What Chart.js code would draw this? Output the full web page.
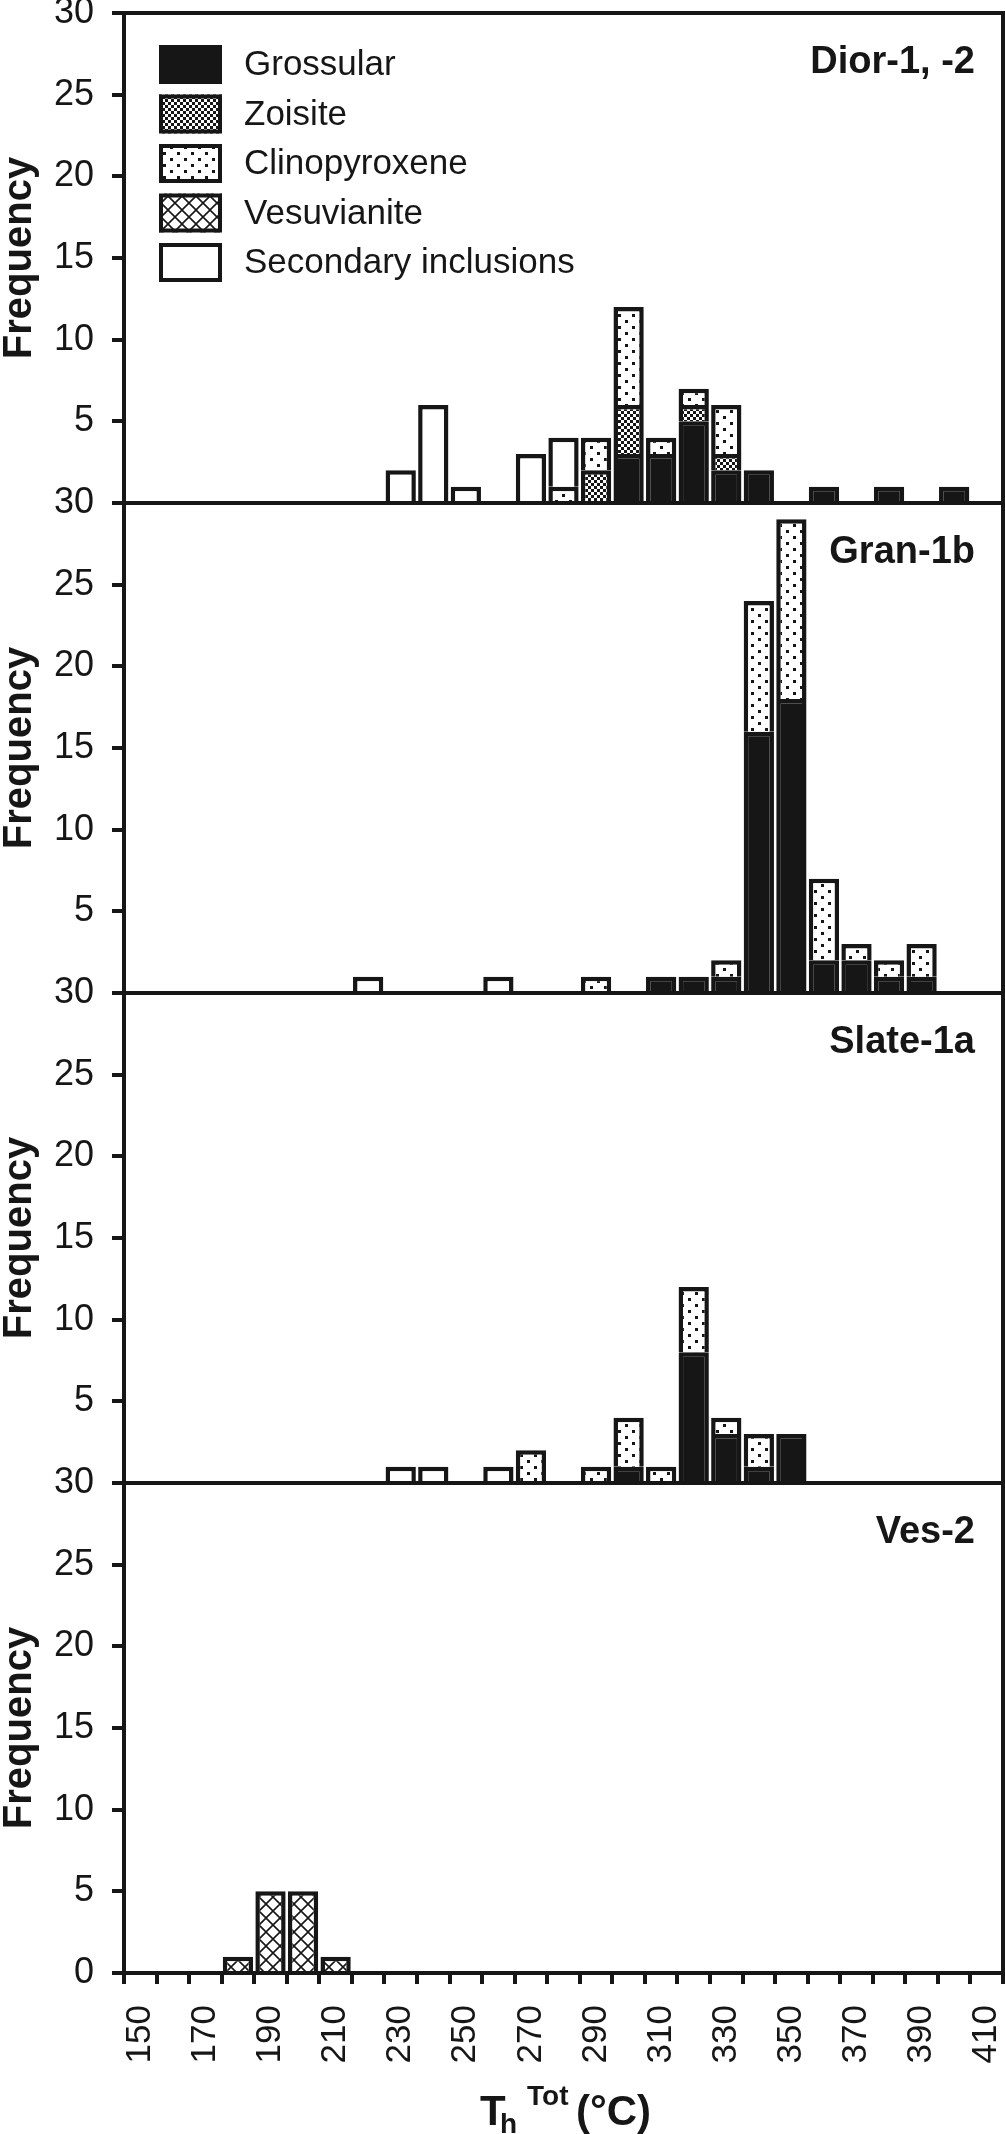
<!DOCTYPE html>
<html>
<head>
<meta charset="utf-8">
<script src="https://cdn.jsdelivr.net/npm/chart.js@4.4.1/dist/chart.umd.min.js"></script>
<style>
  html, body { margin: 0; padding: 0; background: #fff; }
  #wrap { position: relative; width: 1005px; height: 2134px; }
</style>
</head>
<body>
<div id="wrap"><canvas id="histChart" width="1005" height="2134"></canvas></div>
<script>
// bin centres, °C
const temps = [150, 160, 170, 180, 190, 200, 210, 220, 230, 240, 250, 260, 270, 280,
               290, 300, 310, 320, 330, 340, 350, 360, 370, 380, 390, 400, 410];

const minerals = ['Grossular', 'Zoisite', 'Clinopyroxene', 'Vesuvianite', 'Secondary inclusions'];

// Dior-1, -2
const diorGrossular     = [0,0,0,0,0,0,0,0,0,0,0,0,0,0,0,3,3,5,2,2,0,1,0,1,0,1,0];
const diorZoisite       = [0,0,0,0,0,0,0,0,0,0,0,0,0,0,2,3,0,1,1,0,0,0,0,0,0,0,0];
const diorClinopyroxene = [0,0,0,0,0,0,0,0,0,0,0,0,0,1,2,6,1,1,3,0,0,0,0,0,0,0,0];
const diorVesuvianite   = [0,0,0,0,0,0,0,0,0,0,0,0,0,0,0,0,0,0,0,0,0,0,0,0,0,0,0];
const diorSecondary     = [0,0,0,0,0,0,0,0,2,6,1,0,3,3,0,0,0,0,0,0,0,0,0,0,0,0,0];

// Gran-1b
const granGrossular     = [0,0,0,0,0,0,0,0,0,0,0,0,0,0,0,0,1,1,1,16,18,2,2,1,1,0,0];
const granZoisite       = [0,0,0,0,0,0,0,0,0,0,0,0,0,0,0,0,0,0,0,0,0,0,0,0,0,0,0];
const granClinopyroxene = [0,0,0,0,0,0,0,0,0,0,0,0,0,0,1,0,0,0,1,8,11,5,1,1,2,0,0];
const granVesuvianite   = [0,0,0,0,0,0,0,0,0,0,0,0,0,0,0,0,0,0,0,0,0,0,0,0,0,0,0];
const granSecondary     = [0,0,0,0,0,0,0,1,0,0,0,1,0,0,0,0,0,0,0,0,0,0,0,0,0,0,0];

// Slate-1a
const slateGrossular     = [0,0,0,0,0,0,0,0,0,0,0,0,0,0,0,1,0,8,3,1,3,0,0,0,0,0,0];
const slateZoisite       = [0,0,0,0,0,0,0,0,0,0,0,0,0,0,0,0,0,0,0,0,0,0,0,0,0,0,0];
const slateClinopyroxene = [0,0,0,0,0,0,0,0,0,0,0,0,2,0,1,3,1,4,1,2,0,0,0,0,0,0,0];
const slateVesuvianite   = [0,0,0,0,0,0,0,0,0,0,0,0,0,0,0,0,0,0,0,0,0,0,0,0,0,0,0];
const slateSecondary     = [0,0,0,0,0,0,0,0,1,1,0,1,0,0,0,0,0,0,0,0,0,0,0,0,0,0,0];

// Ves-2
const vesGrossular     = [0,0,0,0,0,0,0,0,0,0,0,0,0,0,0,0,0,0,0,0,0,0,0,0,0,0,0];
const vesZoisite       = [0,0,0,0,0,0,0,0,0,0,0,0,0,0,0,0,0,0,0,0,0,0,0,0,0,0,0];
const vesClinopyroxene = [0,0,0,0,0,0,0,0,0,0,0,0,0,0,0,0,0,0,0,0,0,0,0,0,0,0,0];
const vesVesuvianite   = [0,0,0,1,5,5,1,0,0,0,0,0,0,0,0,0,0,0,0,0,0,0,0,0,0,0,0];
const vesSecondary     = [0,0,0,0,0,0,0,0,0,0,0,0,0,0,0,0,0,0,0,0,0,0,0,0,0,0,0];

const yTicks = [0, 5, 10, 15, 20, 25, 30];

const ink = '#161616';
const fontFam = 'Arial, "Liberation Sans", Helvetica, sans-serif';
Chart.defaults.font.family = fontFam;
Chart.defaults.color = ink;

function makePattern(kind) {
  const c = document.createElement('canvas');
  const g = c.getContext('2d');
  if (kind === 'checker') {
    c.width = c.height = 6;
    g.fillStyle = '#fff'; g.fillRect(0, 0, 6, 6);
    g.fillStyle = ink; g.fillRect(0, 0, 3, 3); g.fillRect(3, 3, 3, 3);
  } else if (kind === 'dots') {
    c.width = 14; c.height = 12;
    g.fillStyle = '#fff'; g.fillRect(0, 0, 14, 12);
    g.fillStyle = ink; g.fillRect(2, 2, 3, 3); g.fillRect(9, 8, 3, 3);
  } else {
    c.width = c.height = 14;
    g.fillStyle = '#fff'; g.fillRect(0, 0, 14, 14);
    g.strokeStyle = ink; g.lineWidth = 1.6;
    g.beginPath();
    g.moveTo(0, 0); g.lineTo(14, 14);
    g.moveTo(14, 0); g.lineTo(0, 14);
    g.stroke();
  }
  return g.createPattern(c, 'repeat');
}

const fills = [ink, makePattern('checker'), makePattern('dots'), makePattern('cross'), '#ffffff'];

const panels = [
  { name: 'Dior-1, -2', axis: 'y1', series: [diorGrossular, diorZoisite, diorClinopyroxene, diorVesuvianite, diorSecondary] },
  { name: 'Gran-1b',    axis: 'y2', series: [granGrossular, granZoisite, granClinopyroxene, granVesuvianite, granSecondary] },
  { name: 'Slate-1a',   axis: 'y3', series: [slateGrossular, slateZoisite, slateClinopyroxene, slateVesuvianite, slateSecondary] },
  { name: 'Ves-2',      axis: 'y4', series: [vesGrossular, vesZoisite, vesClinopyroxene, vesVesuvianite, vesSecondary] }
];

const datasets = [];
panels.forEach(p => {
  p.series.forEach((vals, mi) => {
    datasets.push({
      label: minerals[mi],
      data: vals.map(v => v === 0 ? null : v),
      yAxisID: p.axis,
      stack: p.axis,
      backgroundColor: fills[mi],
      borderColor: ink,
      borderWidth: 4.5,
      grouped: false,
      barPercentage: 0.93,
      categoryPercentage: 1
    });
  });
});

function yScale(pi) {
  return {
    type: 'linear',
    position: 'left',
    stack: 'panels',
    stackWeight: 1,
    weight: 4 - pi,
    stacked: true,
    min: 0,
    max: 30,
    afterBuildTicks: s => { s.ticks = yTicks.map(v => ({ value: v })); },
    ticks: {
      autoSkip: false,
      padding: 18,
      font: { size: 36 },
      color: ink,
      callback: v => (v === 0 && pi < 3) ? '' : v
    },
    grid: { drawOnChartArea: false, drawTicks: true, tickLength: 12, lineWidth: 4, color: ink },
    border: { display: true, width: 4, color: ink },
    title: {
      display: true,
      text: 'Frequency',
      color: ink,
      padding: 0,
      font: { size: 40, weight: 'bold', lineHeight: 1 }
    },
    afterFit: s => { s.width = 124; s.paddingTop = 0; s.paddingBottom = 0; }
  };
}

// panel labels, legend, frame, x title
const labelOffset = 50;
const decor = {
  id: 'decor',
  afterDatasetsDraw(chart) {
    const { ctx, chartArea: a } = chart;
    ctx.save();
    ctx.strokeStyle = ink;
    ctx.lineWidth = 4;
    ctx.beginPath();
    ctx.moveTo(a.left, a.top);
    ctx.lineTo(a.right, a.top);
    ctx.lineTo(a.right, a.bottom);
    panels.slice(0, 3).forEach(p => {
      const y = chart.scales[p.axis].bottom;
      ctx.moveTo(a.left, y);
      ctx.lineTo(a.right, y);
    });
    ctx.stroke();

    ctx.fillStyle = ink;
    ctx.font = 'bold 38px ' + fontFam;
    ctx.textAlign = 'right';
    ctx.textBaseline = 'middle';
    panels.forEach(p => {
      ctx.fillText(p.name, a.right - 28, chart.scales[p.axis].top + labelOffset);
    });

    // legend
    ctx.textAlign = 'left';
    ctx.font = '35px ' + fontFam;
    minerals.forEach((m, i) => {
      const bx = 159, by = 45 + i * 49.5, bw = 63, bh = 39;
      ctx.fillStyle = fills[i];
      ctx.fillRect(bx, by, bw, bh);
      ctx.strokeRect(bx + 2, by + 2, bw - 4, bh - 4);
      ctx.fillStyle = ink;
      ctx.fillText(m, 244, by + bh / 2 + 1);
    });

    // x axis title: T_h^Tot (°C)
    ctx.textBaseline = 'alphabetic';
    ctx.font = 'bold 42px ' + fontFam;
    ctx.fillText('T', 480, 2125);
    ctx.fillText('(°C)', 576, 2125);
    ctx.font = 'bold 28px ' + fontFam;
    ctx.fillText('h', 500, 2133);
    ctx.fillText('Tot', 527, 2105);
    ctx.restore();
  }
};

const scales = {
  x: {
    type: 'category',
    offset: true,
    stacked: true,
    ticks: {
      autoSkip: false,
      minRotation: 90,
      maxRotation: 90,
      padding: 21,
      font: { size: 35 },
      color: ink,
      callback: (v, i) => i % 2 === 0 ? temps[i] : ''
    },
    grid: { offset: true, drawOnChartArea: false, drawTicks: true, tickLength: 11, lineWidth: 4, color: ink },
    border: { display: true, width: 4, color: ink },
    afterFit: s => { s.height = 161; s.paddingLeft = 0; s.paddingRight = 0; }
  }
};
panels.forEach((p, pi) => { scales[p.axis] = yScale(pi); });

new Chart(document.getElementById('histChart'), {
  type: 'bar',
  data: { labels: temps.map(String), datasets: datasets },
  options: {
    responsive: false,
    devicePixelRatio: 1,
    animation: false,
    layout: { padding: { top: 13, right: 2, bottom: 0, left: 0 } },
    plugins: { legend: { display: false }, tooltip: { enabled: false } },
    scales: scales
  },
  plugins: [decor]
});
</script>
</body>
</html>
